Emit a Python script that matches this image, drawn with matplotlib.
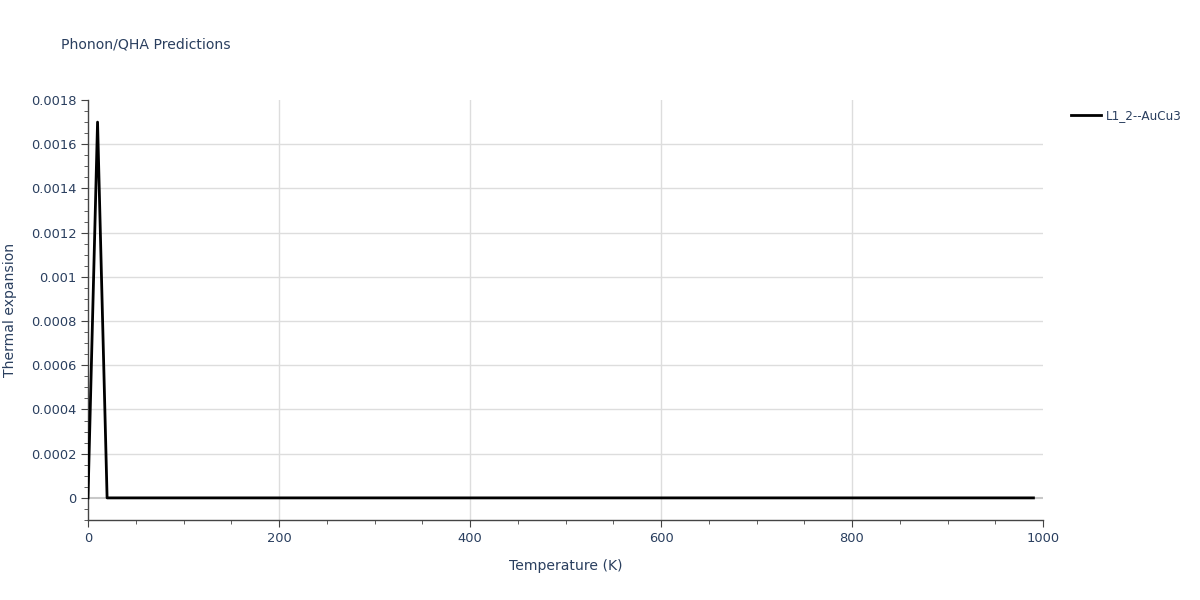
import matplotlib
matplotlib.use("Agg")
import matplotlib.pyplot as plt
from matplotlib.ticker import MultipleLocator, FuncFormatter, FixedLocator
import numpy as np

# temperature grid and thermal expansion values
temps = list(range(0, 1000, 10))
alpha = [0.0, 0.0017] + [0.0] * (len(temps) - 2)
series_name = "L1_2--AuCu3"

txt = "#2a3f5f"
px = 72 / 100  # pixel -> point at dpi 100

plt.rcParams['font.family'] = ['DejaVu Sans']

fig = plt.figure(figsize=(12, 6), dpi=100)
ax = fig.add_axes([88 / 1200, 1 - 520 / 600, (1043 - 88) / 1200, (520 - 100) / 600])

ax.plot(temps, alpha, color="black", lw=2, label=series_name, zorder=3)

ax.set_xlim(0, 1000)
ax.set_ylim(-0.0001, 0.0018)
ax.xaxis.set_major_locator(MultipleLocator(200))
ax.xaxis.set_minor_locator(MultipleLocator(50))
ax.yaxis.set_major_locator(MultipleLocator(0.0002))
ax.yaxis.set_minor_locator(MultipleLocator(0.00005))


def yfmt(v, pos):
    if abs(v) < 1e-12:
        return "0"
    return ("%.4f" % v).rstrip("0")


ax.yaxis.set_major_formatter(FuncFormatter(yfmt))

# grid lines only inside the plot (none on the top/right edges)
for xv in [200, 400, 600, 800]:
    ax.axvline(xv, color="#dddddd", lw=1, zorder=0)
for yv in np.arange(0.0002, 0.00175, 0.0002):
    ax.axhline(yv, color="#dddddd", lw=1, zorder=0)
ax.axhline(0, color="#c8c8c8", lw=1.5, zorder=1)

for s in ["top", "right"]:
    ax.spines[s].set_visible(False)
for s in ["left", "bottom"]:
    ax.spines[s].set_color("#444444")
    ax.spines[s].set_linewidth(1)

ax.tick_params(which="major", length=5, color="#444444", labelsize=13 * px, labelcolor=txt)
ax.tick_params(which="minor", length=3, color="#444444")

ax.set_xlabel("Temperature (K)", fontsize=14 * px, color=txt, labelpad=10)
ax.set_ylabel("Thermal expansion", fontsize=14 * px, color=txt, labelpad=10)

fig.text(61 / 1200, 1 - 45 / 600, "Phonon/QHA Predictions", fontsize=14 * px, color=txt, va="center")

leg = ax.legend(loc="upper left", bbox_to_anchor=(1060 / 1200, 1 - 98 / 600),
                bbox_transform=fig.transFigure, frameon=False, fontsize=12 * px,
                handlelength=2.5, handletextpad=0.4)
for t in leg.get_texts():
    t.set_color(txt)

fig.savefig("out.png", dpi=100)
